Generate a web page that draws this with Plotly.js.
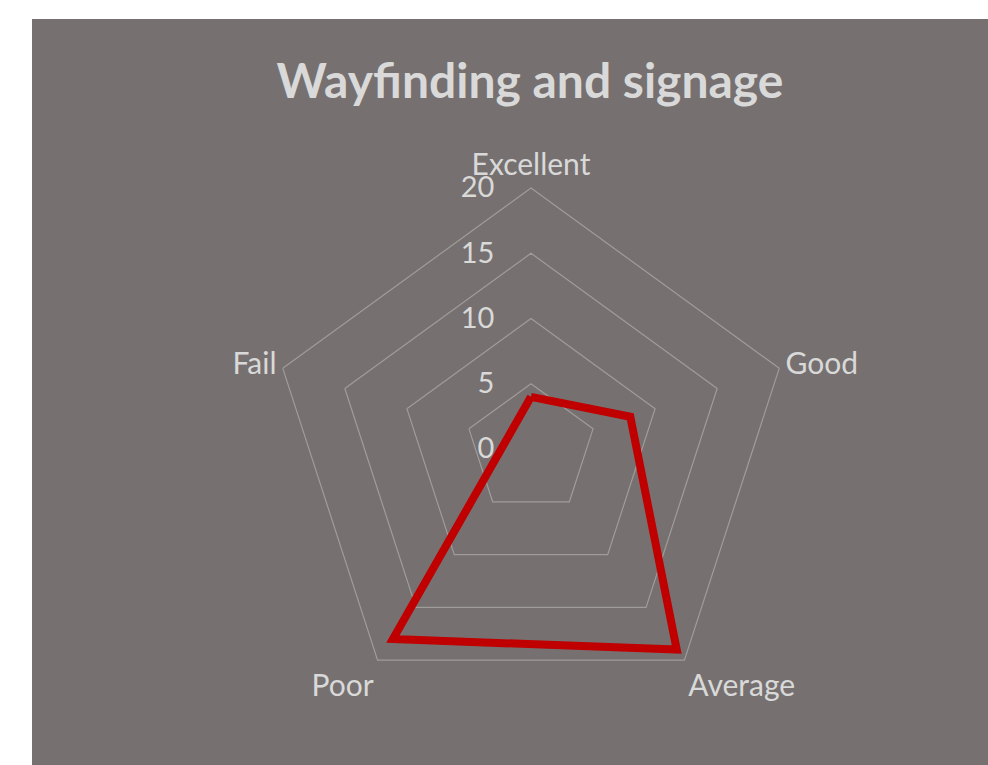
<!DOCTYPE html>
<html>
<head>
<meta charset="utf-8">
<script src="https://cdn.plot.ly/plotly-3.0.1.min.js"></script>
<style>html,body{margin:0;padding:0;background:#fff;}#chart{width:988px;height:765px;}</style>
</head>
<body>
<div id="chart"></div>
<script>
const categories = ["Excellent", "Good", "Average", "Poor", "Fail"];
const values = [4, 8, 19, 18, null];
const radialTicks = [0, 5, 10, 15, 20];
const chartTitle = "Wayfinding and signage";

const W = 988, H = 765;
const cx = 531, cy = 449, R = 261;
const txt = "#D9D9D9";
const gridCol = "#A09C9A";
const font = "Lato, 'Open Sans', sans-serif";

const thetaClosed = categories.concat([categories[0]]);
const rClosed = values.concat([values[0]]);

const traces = [
  {
    type: "scatterpolar",
    r: rClosed,
    theta: thetaClosed,
    mode: "lines",
    connectgaps: true,
    line: {color: "#C00000", width: 8},
    showlegend: false
  }
];

const layout = {
  width: W, height: H,
  margin: {l: 0, r: 0, t: 0, b: 0},
  paper_bgcolor: "#ffffff",
  showlegend: false,
  font: {family: font, color: txt},
  title: {
    text: "<b>" + chartTitle + "</b>",
    font: {family: font, size: 48, color: txt},
    x: 530 / W, xref: "paper", xanchor: "center",
    y: 1 - 81 / H, yref: "paper", yanchor: "middle"
  },
  shapes: [{
    type: "rect", xref: "paper", yref: "paper", layer: "below",
    x0: 32 / W, x1: 1, y0: 0, y1: 1 - 19 / H,
    fillcolor: "#767170", line: {width: 0}
  }],
  polar: {
    domain: {
      x: [(cx - R) / W, (cx + R) / W],
      y: [(H - cy - R) / H, (H - cy + R) / H]
    },
    gridshape: "linear",
    bgcolor: "rgba(0,0,0,0)",
    radialaxis: {
      range: [0, 20],
      tickvals: radialTicks,
      ticktext: radialTicks.map(String),
      angle: 90,
      tickangle: 90,
      side: "counterclockwise",
      showline: false,
      ticks: "outside",
      ticklen: 26,
      tickcolor: "rgba(0,0,0,0)",
      gridcolor: gridCol,
      gridwidth: 1.2,
      tickfont: {family: font, size: 29, color: txt}
    },
    angularaxis: {
      type: "category",
      categoryarray: categories,
      rotation: 90,
      direction: "clockwise",
      showgrid: false,
      showline: true,
      linecolor: gridCol,
      linewidth: 1.2,
      ticks: "",
      tickfont: {family: font, size: 30, color: txt}
    }
  }
};

Plotly.newPlot("chart", traces, layout, {displayModeBar: false, staticPlot: true});
</script>
</body>
</html>
